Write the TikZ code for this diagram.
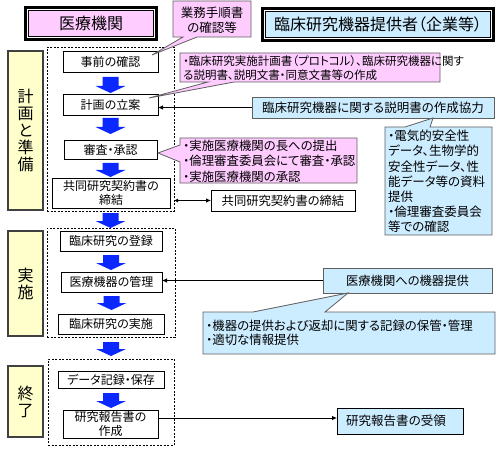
\documentclass[tikz,border=0pt]{standalone}
\usepackage{fontspec}
\setmainfont{Noto Sans CJK JP}[RawFeature=+palt]
\usetikzlibrary{arrows.meta,calc}
\definecolor{pinkf}{RGB}{255,204,255}
\definecolor{bluef}{RGB}{204,236,255}
\definecolor{yelf}{RGB}{255,255,204}
\definecolor{flowb}{RGB}{10,40,255}
\definecolor{edgegray}{RGB}{95,95,95}
\newcommand\flowarrow[4]{%
  \fill[flowb] let \p1=($(#1.south)+(0,#3)$), \p2=($(#2.north)+(0,-#4)$) in
    (\x1-8pt,\y1) -- (\x1+8pt,\y1) -- (\x1+8pt,\y2+7pt) -- (\x1+15pt,\y2+7pt)
    -- (\x1,\y2) -- (\x1-15pt,\y2+7pt) -- (\x1-8pt,\y2+7pt) -- cycle;}
\begin{document}
\begin{tikzpicture}[x=1pt,y=-1pt,
  box/.style={draw=black,fill=white,line width=0.8pt,inner sep=0pt,outer sep=0pt,
    font=\fontsize{12}{14.5}\selectfont,align=center},
  rbox/.style={box,font=\fontsize{12.3}{14}\selectfont},
  titlebox/.style={draw=black,line width=1pt,inner sep=0pt,outer sep=0pt,
    font=\fontsize{16}{18}\selectfont},
  phase/.style={draw=black!75,fill=yelf,line width=1.8pt,inner sep=0pt,outer sep=0pt,
    font=\fontsize{16}{17}\selectfont,align=center},
  frame/.style={draw=black,dash pattern=on 2pt off 1.5pt,line width=0.7pt,inner sep=0pt,outer sep=0pt},
  callpink/.style={draw=edgegray,fill=pinkf,line width=0.8pt},
  callblue/.style={draw=edgegray,fill=bluef,line width=0.8pt},
  ctext/.style={inner sep=0pt,align=left,anchor=west,font=\fontsize{11.5}{14}\selectfont},
  conn/.style={line width=0.8pt,draw=black},
  tipend/.style={-{Latex[length=5pt,width=4.5pt]}}
]
\useasboundingbox[fill=white] (0,0) rectangle (500,449);

% title boxes
\node[titlebox,fill=pinkf,minimum width=125pt,minimum height=25.5pt] (iryo) at (91,23.75) {医療機関};
\draw[line width=3pt] ($(iryo.north west)+(-3pt,3pt)$) rectangle ($(iryo.south east)+(3pt,-3pt)$);
\node[titlebox,fill=bluef,minimum width=225pt,minimum height=26pt] (kigyo) at (378,24.5) {臨床研究機器提供者（企業等）};
\draw[line width=3pt] ($(kigyo.north west)+(-3pt,3pt)$) rectangle ($(kigyo.south east)+(3pt,-3pt)$);

% phase boxes
\node[phase,minimum width=35pt,minimum height=159pt] (ph1) at (25.5,130.5) {計\\画\\と\\準\\備};
\node[phase,minimum width=35pt,minimum height=105pt] (ph2) at (25.5,283.5) {実\\施};
\node[phase,minimum width=35pt,minimum height=71pt] (ph3) at (25.5,401.5) {終\\了};

% dashed frames
\node[frame,minimum width=127pt,minimum height=164pt] (f1) at (110.5,129) {};
\node[frame,minimum width=128pt,minimum height=109pt] (f2) at (111,282.5) {};
\node[frame,minimum width=126pt,minimum height=86pt] (f3) at (111,402) {};

% step boxes
\node[box,minimum width=95pt,minimum height=21pt] (jizen) at (110.5,61.5) {事前の確認};
\node[box,minimum width=95pt,minimum height=21pt] (keikaku) at (110.5,104.5) {計画の立案};
\node[box,minimum width=93pt,minimum height=19pt] (shinsa) at (110.5,149.5) {審査・承認};
\node[box,minimum width=118pt,minimum height=30pt] (keiyaku) at (111,193) {共同研究契約書の\\締結};
\node[box,minimum width=102pt,minimum height=20pt] (touroku) at (111,241) {臨床研究の登録};
\node[box,minimum width=101pt,minimum height=20pt] (kanri) at (111.5,282) {医療機器の管理};
\node[box,minimum width=106pt,minimum height=20pt] (jisshi) at (111,324) {臨床研究の実施};
\node[box,minimum width=106pt,minimum height=17pt] (data) at (111,379.5) {データ記録・保存};
\node[box,minimum width=95pt,minimum height=28pt] (houkoku) at (110.5,424) {研究報告書の\\作成};

% flow arrows
\flowarrow{jizen}{keikaku}{5}{1}
\flowarrow{keikaku}{shinsa}{3}{6}
\flowarrow{shinsa}{keiyaku}{4}{1}
\flowarrow{f1}{f2}{2}{0}
\flowarrow{touroku}{kanri}{4}{2}
\flowarrow{kanri}{jisshi}{4}{4}
\flowarrow{f2}{f3}{5}{3}
\flowarrow{data}{houkoku}{5}{2}

% right side boxes and connectors
\node[rbox,draw=edgegray,fill=bluef,minimum width=242pt,minimum height=21pt,font=\fontsize{12.5}{14}\selectfont] (kyoryoku) at (373,107.5) {臨床研究機器に関する説明書の作成協力};
\draw[conn,tipend] (kyoryoku.west) -- (kyoryoku.west -| keikaku.east);

\node[rbox,minimum width=144pt,minimum height=21pt] (teiketsu) at (283,200.5) {共同研究契約書の締結};
\draw[conn,{Latex[length=4pt,width=4pt]}-{Latex[length=5pt,width=4.5pt]}] (teiketsu.west -| f1.east) -- (teiketsu.west);

\node[rbox,draw=edgegray,fill=bluef,minimum width=169pt,minimum height=25pt] (teikyo) at (407.5,280.5) {医療機関への機器提供};
\draw[conn,tipend] (teikyo.west) -- (teikyo.west -| kanri.east);

\node[rbox,fill=bluef,minimum width=126pt,minimum height=26pt,font=\fontsize{12.5}{14}\selectfont] (juryo) at (400,421) {研究報告書の受領\hspace*{8pt}};
\coordinate (jw) at ([yshift=3pt]juryo.west);
\draw[conn,tipend] (jw -| houkoku.east) -- (jw);

% callouts
\draw[callpink] (173,1) -- (251,1) -- (251,37) -- (197,37) -- (152,55) -- (183,37) -- (173,37) -- cycle;
\node[ctext,anchor=center,align=center,font=\fontsize{12.5}{15}\selectfont] (c1) at (212,20.5) {業務手順書\\の確認等};

\draw[callpink] (180,53) -- (440,53) -- (440,82) -- (234,82) -- (149,98) -- (208,82) -- (180,82) -- cycle;
\node[ctext] (c2) at (183,68) {・臨床研究実施計画書（プロトコル）、臨床研究機器に関す\\る説明書、説明文書・同意文書等の作成};

\draw[callpink] (180,138) -- (357,138) -- (357,183) -- (180,183) -- (180,162) -- (158,153) -- (180,145) -- cycle;
\node[ctext,font=\fontsize{12.4}{15.5}\selectfont] (c3) at (183,161) {・実施医療機関の長への提出\\・倫理審査委員会にて審査・承認\\・実施医療機関の承認};

\draw[callblue] (385,127) -- (405,127) -- (433,118) -- (430,127) -- (492,127) -- (492,235) -- (385,235) -- cycle;
\node[ctext,font=\fontsize{12.5}{15.2}\selectfont] (c4) at (388,181.5) {・電気的安全性\\データ、生物学的\\安全性データ、性\\能データ等の資料\\提供\\・倫理審査委員会\\等での確認};

\draw[callblue] (203,312) -- (253,312) -- (348,293) -- (325,312) -- (495,312) -- (495,354) -- (203,354) -- cycle;
\node[ctext,font=\fontsize{12.4}{14}\selectfont] (c5) at (206,333) {・機器の提供および返却に関する記録の保管・管理\\・適切な情報提供};

\end{tikzpicture}
\end{document}
